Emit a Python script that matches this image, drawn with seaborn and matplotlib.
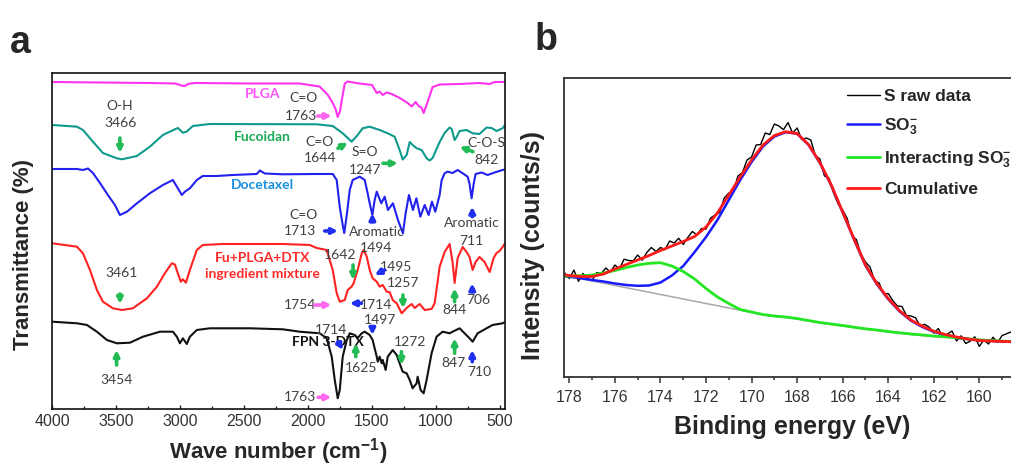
import matplotlib
matplotlib.use("Agg")
import matplotlib.pyplot as plt
from matplotlib.ticker import MultipleLocator
import seaborn as sns

# ---------------- panel a: FTIR spectra (offset transmittance, a.u.) ----------------
plga_wn = [4000, 3630, 3240, 3040, 3000, 2980, 2955, 2940, 2885, 2450, 2065, 1910, 1845, 1807,
           1785, 1768, 1750, 1736, 1713, 1690, 1600, 1500, 1463, 1440, 1416, 1385, 1346, 1283,
           1221, 1190, 1159, 1135, 1111, 1096, 1065, 1026, 970, 815, 660, 580, 540, 460]
plga_t = [327, 326.5, 326, 325.5, 324, 323, 323.5, 325, 326, 325.5, 325.5, 322.5, 314, 306,
          300, 292, 298, 309, 325.5, 327.5, 325.5, 324, 316, 317.5, 314, 316.5, 315, 311,
          306, 302.5, 307, 303, 301, 296, 307, 322, 324.5, 325, 326, 325, 327, 327]

fuc_wn = [4000, 3807, 3760, 3682, 3604, 3495, 3455, 3338, 3237, 3135, 3041, 3018, 2979, 2948,
          2901, 2768, 1932, 1807, 1729, 1659, 1612, 1573, 1518, 1440, 1377, 1323, 1284, 1260,
          1229, 1205, 1182, 1151, 1112, 1073, 1049, 1026, 971, 932, 893, 877, 854, 838, 815,
          760, 713, 659, 604, 565, 526, 479, 460]
fuc_t = [284, 282.3, 279, 267.3, 256, 250.7, 249.7, 253, 262.3, 274, 279.7, 281, 276.3, 277.5,
         283, 285, 284.7, 283, 275.7, 267.3, 274, 280.7, 282.3, 279, 275.7, 272.3, 259, 249.5,
         254, 267, 264, 260.7, 259, 250.7, 248.5, 251, 267, 276, 281.5, 280, 269, 272, 278,
         279, 275.7, 275, 281.5, 281, 278, 280.7, 284]

dtx_wn = [4000, 3807, 3760, 3721, 3682, 3627, 3565, 3510, 3471, 3416, 3338, 3237, 3135, 3057,
          3018, 2987, 2963, 2924, 2870, 2823, 2713, 2588, 2401, 2377, 2338, 2198, 1932, 1807,
          1776, 1752, 1729, 1717, 1697, 1674, 1651, 1596, 1557, 1534, 1518, 1497, 1479, 1463,
          1427, 1401, 1375, 1336, 1297, 1258, 1237, 1211, 1180, 1153, 1122, 1088, 1057, 1031,
          1005, 971, 955, 932, 909, 870, 830, 791, 752, 737, 721, 705, 690, 643, 596, 541, 479, 460]
dtx_t = [240, 240, 239, 240.5, 236, 226, 214, 204, 194, 197.3, 205.7, 215.7, 224, 229,
         220.7, 214, 217.3, 220.7, 229, 233, 233, 234, 235, 238.5, 235.5, 234.7, 235, 235,
         229, 202, 184, 176, 194, 219, 229, 232.3, 229, 215.7, 205.7, 194, 209, 217.3,
         205.7, 212.3, 199, 205.7, 189, 175.7, 195.7, 214, 199, 210.7, 192.3, 204, 194, 207.3,
         197.3, 214, 229, 235.7, 237.3, 236, 239, 235.7, 232.3, 225, 210.7, 225, 235, 236.5,
         234, 236.5, 239, 239.5]

mix_wn = [4000, 3807, 3760, 3705, 3651, 3604, 3526, 3455, 3370, 3260, 3182, 3120, 3065, 3041,
          3018, 2995, 2979, 2955, 2924, 2870, 2823, 2666, 2198, 1987, 1932, 1854, 1807, 1776,
          1752, 1713, 1690, 1659, 1643, 1612, 1580, 1565, 1541, 1518, 1495, 1463, 1440, 1416,
          1385, 1362, 1338, 1307, 1268, 1229, 1190, 1166, 1127, 1088, 1034, 1010, 971, 932,
          893, 870, 854, 830, 791, 760, 737, 713, 690, 659, 620, 580, 549, 526, 502, 479, 460]
mix_t = [165.7, 162.3, 155.7, 139, 119, 107.3, 100.7, 99, 100.7, 110.7, 122.3, 135.7, 145.7, 144.5,
         135.7, 127.3, 129.7, 126.3, 139, 159, 164, 165, 165, 164, 161, 159, 139, 115.7,
         107.3, 109, 119, 122.3, 126, 139, 155.7, 159, 152.3, 139, 130.7, 127.3, 122.3, 124,
         117.3, 117, 109, 105.7, 95.7, 101, 105, 101, 105, 99, 100, 105.7, 142.3, 157,
         165, 147, 126, 151, 162, 157, 152, 139, 147, 152, 147, 137, 151, 156, 158, 162, 165.7]

fpn_wn = [4000, 3807, 3729, 3651, 3573, 3495, 3393, 3291, 3158, 3057, 3026, 3002, 2979, 2948,
          2924, 2870, 2768, 2455, 2198, 2065, 1909, 1854, 1815, 1791, 1768, 1752, 1729, 1697,
          1674, 1635, 1612, 1580, 1557, 1518, 1495, 1463, 1455, 1440, 1424, 1416, 1393, 1377,
          1338, 1307, 1284, 1260, 1229, 1205, 1182, 1151, 1143, 1120, 1096, 1073, 1034, 995,
          948, 893, 870, 815, 776, 737, 713, 674, 604, 557, 479, 460]
fpn_t = [87.3, 85.7, 84, 77.3, 69, 65.7, 66.3, 72.3, 77.3, 77.3, 72.3, 65.7, 70.7, 65,
         72.3, 79, 80.7, 80.7, 79.7, 77.3, 75.7, 70.7, 52.3, 29, 10.7, 19, 52.3, 69,
         75.7, 74, 71, 75.7, 77.3, 74, 69, 52.3, 47.3, 52.3, 45.7, 49, 39, 52.3,
         59, 54, 45.7, 37.3, 35.7, 29, 20.7, 25.7, 32.3, 19, 15.7, 29, 55.7, 72.3,
         77.3, 75.7, 77.3, 80.7, 75.7, 70.7, 67.3, 75.7, 80.7, 84, 85.7, 87]

# ---------------- panel b: S 2p XPS ----------------
raw_ev = [178.2, 178.0, 177.8, 177.6, 177.4, 177.2, 177.0, 176.8, 176.6, 176.4, 176.2, 176.0,
          175.8, 175.6, 175.4, 175.2, 175.0, 174.8, 174.6, 174.4, 174.2, 174.0, 173.8, 173.6,
          173.4, 173.2, 173.0, 172.8, 172.6, 172.4, 172.2, 172.0, 171.8, 171.6, 171.4, 171.2,
          171.0, 170.8, 170.6, 170.4, 170.2, 170.0, 169.8, 169.6, 169.4, 169.2, 169.0, 168.8,
          168.6, 168.4, 168.2, 168.0, 167.8, 167.6, 167.4, 167.2, 167.0, 166.8, 166.6, 166.4,
          166.2, 166.0, 165.8, 165.6, 165.4, 165.2, 165.0, 164.8, 164.6, 164.4, 164.2, 164.0,
          163.8, 163.6, 163.4, 163.2, 163.0, 162.8, 162.6, 162.4, 162.2, 162.0, 161.8, 161.6,
          161.4, 161.2, 161.0, 160.8, 160.6, 160.4, 160.2, 160.0, 159.8, 159.6, 159.4, 159.2,
          159.0, 158.8, 158.6]
raw_counts = [104, 98.5, 107, 95.7, 103.5, 98.5, 96.5, 104.5, 103.5, 109, 105, 112,
              108, 117.8, 116.5, 116.2, 122, 116.8, 124.5, 129.5, 125.5, 129.5, 127.3, 136,
              134, 138.7, 132.5, 139.5, 145.5, 142, 148.5, 148, 159, 162, 164.5, 179,
              184, 185, 201, 204.5, 217, 220, 232, 232.5, 244, 242.5, 253, 251,
              247.3, 254.5, 244, 249, 237.5, 239, 237, 221.5, 218, 201, 199, 184,
              173, 167, 158.5, 141.5, 137.5, 123, 115, 110, 96.5, 94, 83, 83.5,
              76.5, 71, 70.5, 61.5, 61, 59.2, 50.8, 52.7, 49.8, 44, 48.5, 40.2,
              43, 46, 36, 41.2, 33.5, 35.8, 40.2, 30.6, 37.3, 33, 39.8, 34.6,
              41.5, 43.3, 45.2]

fit_ev = [178.2, 178.0, 177.5, 177.0, 176.5, 176.0, 175.5, 175.0, 174.5, 174.0, 173.5, 173.0,
          172.5, 172.0, 171.5, 171.0, 170.5, 170.0, 169.5, 169.0, 168.5, 168.0, 167.5, 167.0,
          166.5, 166.0, 165.5, 165.0, 164.5, 164.0, 163.5, 163.0, 162.5, 162.0, 161.5, 161.0,
          160.5, 160.0, 159.5, 159.0, 158.5]
cumulative = [102, 101.5, 100.5, 100.5, 103, 108, 112.5, 117, 121.5, 126.5, 131, 135.5,
              140.5, 150, 164, 182, 200, 217, 232, 241.5, 245.3, 243.5, 232.5, 214.5,
              192, 165, 138, 112, 93.5, 78.5, 66.3, 57, 50.8, 45.8, 42.5, 40,
              38, 36.5, 36, 35.6, 35.2]
so3 = [100.6, 100.3, 98.8, 97, 95.5, 93.5, 92, 91.2, 91.5, 94.5, 101.5, 111,
       125, 140, 157, 177, 197, 215, 230.5, 240.5, 244.8, 243.2, 232.2, 214,
       191.5, 164.5, 137.5, 111.5, 92.8, 77.8, 65.6, 56.3, 50, 45.2, 41.8, 39.3,
       37.9, 36.8, 36.1, 35.6, 35]
interacting = [100.8, 101, 101.3, 102, 104, 106.5, 109.5, 112, 113.7, 114.3, 111, 105.5,
               98, 88.5, 80, 73.5, 67.5, 65, 62.5, 61, 60, 58.5, 56.5, 54.5,
               53, 51.5, 49.8, 48.2, 47, 45.5, 44.2, 43, 42, 41, 40.2, 39.3,
               38.2, 37.2, 36.5, 36, 35.3]
baseline = [101.3, 100.5, 98.3, 96, 93.8, 91.5, 89.3, 87, 84.8, 82.5, 80.3, 78,
            75.8, 73.5, 71.3, 69, 66.8, 64.5, 62, 60.5, 59.5, 58, 56, 54,
            52.5, 51, 49.3, 47.7, 46.5, 45, 43.7, 42.5, 41.5, 40.5, 39.7, 38.8,
            37.7, 36.7, 36, 35.5, 34.8]

# colours
GRAY_TXT = "#404040"
GREEN_AR = "#22BB55"
BLUE_AR = "#1F2FEE"
PINK_AR = "#FF66EE"

sns.set_style("white")
plt.rcParams["font.family"] = ["Liberation Sans", "DejaVu Sans"]
plt.rcParams["mathtext.fontset"] = "custom"
plt.rcParams["mathtext.rm"] = "Liberation Sans"
plt.rcParams["mathtext.bf"] = "Liberation Sans:bold"
plt.rcParams["mathtext.default"] = "bf"

fig = plt.figure(figsize=(10.11, 4.67), dpi=100)
ax_a = fig.add_axes([0.0517, 0.1242, 0.4478, 0.7195])
ax_b = fig.add_axes([0.5582, 0.1927, 0.4488, 0.6409])

# ---- panel a ----
spectra = [
    (plga_wn, plga_t, "#FF33EE"),
    (fuc_wn, fuc_t, "#0E9A8C"),
    (dtx_wn, dtx_t, "#2222EE"),
    (mix_wn, mix_t, "#FF2222"),
    (fpn_wn, fpn_t, "#111111"),
]
for wn, t, col in spectra:
    sns.lineplot(x=wn, y=t, ax=ax_a, color=col, lw=1.5, estimator=None, sort=False)

ax_a.set_xlim(4000, 460)
ax_a.set_ylim(0, 336)
ax_a.set_yticks([])
ax_a.xaxis.set_major_locator(MultipleLocator(500))
ax_a.xaxis.set_minor_locator(MultipleLocator(250))
ax_a.tick_params(axis="x", which="major", direction="in", length=3, width=1,
                 labelsize=11.5, labelcolor="#333333", pad=3.6, bottom=True)
ax_a.tick_params(axis="x", which="minor", direction="in", length=2, width=1, bottom=True)
for s in ax_a.spines.values():
    s.set_color("#111111")
    s.set_linewidth(1.2)

ax_a.set_xlabel("Wave number (cm$^{-1}$)", fontsize=16, fontweight="bold", va="center")
ax_a.xaxis.set_label_coords(0.5, -0.128)
ax_a.set_ylabel("Transmittance (%)", fontsize=16, fontweight="bold", va="center")
ax_a.yaxis.set_label_coords(-0.0625, 0.461)

ann_font = ["Lato", "DejaVu Sans"]
notes = [
    ("PLGA", 2354, 315, "#FF55FF", "bold"),
    ("C=O", 2039, 311, GRAY_TXT, "normal"),
    ("1763", 2059, 293, GRAY_TXT, "normal"),
    ("O-H", 3471, 303, GRAY_TXT, "normal"),
    ("3466", 3466, 286, GRAY_TXT, "normal"),
    ("Fucoidan", 2354, 272, "#1BAA55", "bold"),
    ("C=O", 1909, 267, GRAY_TXT, "normal"),
    ("1644", 1909, 251, GRAY_TXT, "normal"),
    ("S=O", 1557, 257, GRAY_TXT, "normal"),
    ("1247", 1557, 239, GRAY_TXT, "normal"),
    ("C-O-S", 606, 266, GRAY_TXT, "normal"),
    ("842", 606, 249, GRAY_TXT, "normal"),
    ("Docetaxel", 2354, 224, "#1A8FE0", "bold"),
    ("C=O", 2039, 194, GRAY_TXT, "normal"),
    ("1713", 2065, 178, GRAY_TXT, "normal"),
    ("Aromatic", 1459, 177, GRAY_TXT, "normal"),
    ("1494", 1466, 161, GRAY_TXT, "normal"),
    ("Aromatic", 723, 186, GRAY_TXT, "normal"),
    ("711", 723, 168, GRAY_TXT, "normal"),
    ("Fu+PLGA+DTX", 2354, 151, "#FF2A2A", "bold"),
    ("ingredient mixture", 2354, 135, "#FF2A2A", "bold"),
    ("3461", 3458, 136, GRAY_TXT, "normal"),
    ("1642", 1752, 154, GRAY_TXT, "normal"),
    ("1495", 1309, 142, GRAY_TXT, "normal"),
    ("1754", 2065, 104, GRAY_TXT, "normal"),
    ("1714", 1466, 104, GRAY_TXT, "normal"),
    ("1257", 1258, 126, GRAY_TXT, "normal"),
    ("844", 854, 99, GRAY_TXT, "normal"),
    ("706", 672, 109, GRAY_TXT, "normal"),
    ("FPN 3-DTX", 1844, 67, "#111111", "bold"),
    ("3454", 3497, 29, GRAY_TXT, "normal"),
    ("1714", 1817, 79, GRAY_TXT, "normal"),
    ("1497", 1440, 89, GRAY_TXT, "normal"),
    ("1625", 1583, 41, GRAY_TXT, "normal"),
    ("1272", 1205, 67, GRAY_TXT, "normal"),
    ("1763", 2065, 12, GRAY_TXT, "normal"),
    ("847", 867, 46, GRAY_TXT, "normal"),
    ("710", 659, 37, GRAY_TXT, "normal"),
]
for txt, x, y, col, wt in notes:
    ax_a.text(x, y, txt, color=col, fontweight=wt, fontsize=10, family=ann_font,
              ha="center", va="center")

arrows = [
    (1924, 293, 1815, 293, PINK_AR),
    (3471, 271, 3471, 256, GREEN_AR),
    (1766, 260.7, 1688, 266.3, GREEN_AR),
    (1414, 245.7, 1297, 245.7, GREEN_AR),
    (711, 257.3, 815, 262.3, GREEN_AR),
    (1870, 178, 1766, 178, BLUE_AR),
    (1497, 187.3, 1497, 195.7, BLUE_AR),
    (716, 192.3, 716, 202.3, BLUE_AR),
    (3471, 115, 3471, 105, GREEN_AR),
    (1648, 144, 1648, 129, GREEN_AR),
    (1401, 139, 1479, 134, BLUE_AR),
    (1948, 104, 1817, 104, PINK_AR),
    (1583, 105.7, 1674, 105.7, BLUE_AR),
    (1258, 114, 1258, 100.7, GREEN_AR),
    (854, 107.3, 854, 120.7, GREEN_AR),
    (716, 117.3, 716, 125.7, BLUE_AR),
    (3497, 44, 3497, 59, GREEN_AR),
    (1766, 67.3, 1727, 59, BLUE_AR),
    (1497, 82.3, 1497, 74, BLUE_AR),
    (1627, 52.3, 1627, 65.7, GREEN_AR),
    (1270, 57.3, 1270, 44, GREEN_AR),
    (1922, 11.7, 1817, 11.7, PINK_AR),
    (854, 55.7, 854, 70.7, GREEN_AR),
    (716, 47.3, 716, 59, BLUE_AR),
]
for x0, y0, x1, y1, col in arrows:
    ax_a.annotate("", xy=(x1, y1), xytext=(x0, y0),
                  arrowprops=dict(arrowstyle="-|>", color=col, lw=2.6,
                                  mutation_scale=8, shrinkA=0, shrinkB=0))

# ---- panel b ----
sns.lineplot(x=fit_ev, y=baseline, ax=ax_b, color="#A8A8A8", lw=1.1, estimator=None, sort=False)
sns.lineplot(x=raw_ev, y=raw_counts, ax=ax_b, color="black", lw=1.0, estimator=None,
             sort=False, label="S raw data")
sns.lineplot(x=fit_ev, y=so3, ax=ax_b, color="#1A1AFF", lw=1.8, estimator=None,
             sort=False, label="SO$_3^{-}$")
sns.lineplot(x=fit_ev, y=interacting, ax=ax_b, color="#22E622", lw=2.0, estimator=None,
             sort=False, label="Interacting SO$_3^{-}$")
sns.lineplot(x=fit_ev, y=cumulative, ax=ax_b, color="#FF1A1A", lw=2.0, estimator=None,
             sort=False, label="Cumulative")

ax_b.set_xlim(178.22, 158.3)
ax_b.set_ylim(0, 299.3)
ax_b.set_yticks([])
ax_b.xaxis.set_major_locator(MultipleLocator(2))
ax_b.xaxis.set_minor_locator(MultipleLocator(1))
ax_b.tick_params(axis="x", which="major", direction="out", length=4.3, width=1.1,
                 labelsize=11.5, labelcolor="#333333", pad=5, bottom=True, color="#333333")
ax_b.tick_params(axis="x", which="minor", direction="out", length=2.5, width=1.1,
                 bottom=True, color="#333333")
for s in ax_b.spines.values():
    s.set_color("#333333")
    s.set_linewidth(1.3)

ax_b.set_xlabel("Binding energy (eV)", fontsize=18, fontweight="bold", va="center")
ax_b.xaxis.set_label_coords(0.503, -0.167)
ax_b.set_ylabel("Intensity (counts/s)", fontsize=18, fontweight="bold", va="center")
ax_b.yaxis.set_label_coords(-0.069, 0.441)

ax_b.legend(loc="upper left", bbox_to_anchor=(0.623, 0.962), frameon=False,
            prop={"weight": "bold", "size": 12.5}, handlelength=1.9, handletextpad=0.25,
            labelspacing=0.7, borderpad=0, borderaxespad=0)

fig.text(20.5 / 1011, 1 - 53 / 467, "a", fontsize=27, fontweight="bold",
         ha="center", va="baseline")
fig.text(545.5 / 1011, 1 - 50 / 467, "b", fontsize=27, fontweight="bold",
         ha="center", va="baseline")

fig.savefig("out.png", dpi=100)
